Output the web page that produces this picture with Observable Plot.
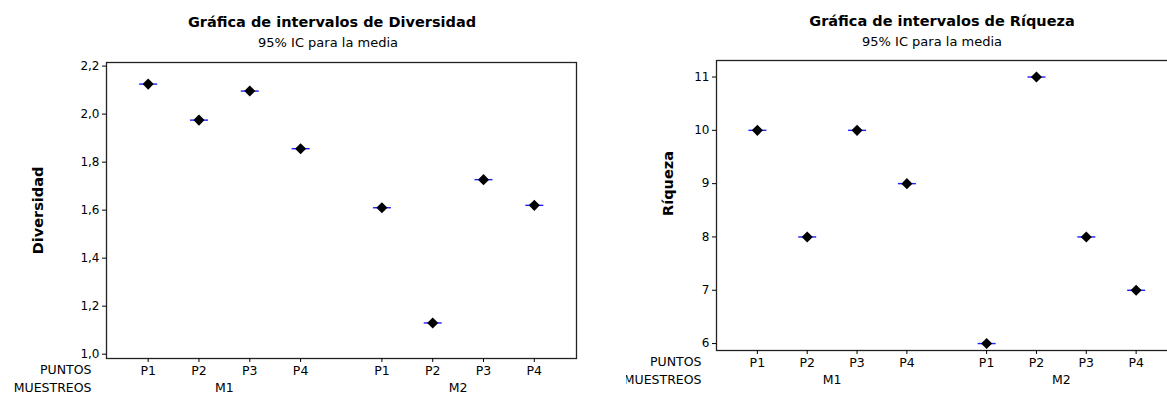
<!DOCTYPE html>
<html><head><meta charset="utf-8">
<script src="https://cdn.jsdelivr.net/npm/d3@7"></script>
<script src="https://cdn.jsdelivr.net/npm/@observablehq/plot@0.6"></script>
<style>
body{margin:0;background:#fff;}
#wrap{position:relative;width:1167px;height:403px;overflow:hidden;background:#fff;font-family:"DejaVu Sans",sans-serif;color:#000;}
.title{position:absolute;font-weight:bold;font-size:14.5px;transform:translate(-50%,-50%);white-space:nowrap;}
.sub{position:absolute;font-size:13px;transform:translate(-50%,-50%);white-space:nowrap;}
#left{position:absolute;left:0;top:0;width:590px;height:403px;}
#rightclip{position:absolute;left:626px;top:0;width:541px;height:403px;overflow:hidden;}
#right{position:absolute;left:-31px;top:0;width:590px;height:403px;}
#wrap svg{max-width:none !important;width:590px !important;height:403px !important;}
</style></head><body>
<div id="wrap">
  <div id="left"></div>
  <div id="rightclip"><div id="right"></div></div>
  <div class="title" style="left:332px;top:22px">Gráfica de intervalos de Diversidad</div>
  <div class="sub" style="left:328px;top:42px">95% IC para la media</div>
  <div class="title" style="left:942px;top:21px">Gráfica de intervalos de Ríqueza</div>
  <div class="sub" style="left:932px;top:41px">95% IC para la media</div>
</div>
<script>
// ---- data ----
const muestreos = ["M1","M1","M1","M1","M2","M2","M2","M2"];
const puntos = ["P1","P2","P3","P4","P1","P2","P3","P4"];
const diversidad = [2.125, 1.975, 2.096, 1.856, 1.61, 1.13, 1.727, 1.62];
const riqueza = [10, 8, 10, 9, 6, 11, 8, 7];
const diversidadTicks = [1.0, 1.2, 1.4, 1.6, 1.8, 2.0, 2.2];
const riquezaTicks = [6, 7, 8, 9, 10, 11];
const groupLabels = ["M1", "M2"];

// layout: slot index within group, with extra gap between groups
const groupGap = 0.6;
const pos = puntos.map((p, i) => (i % 4) + groupLabels.indexOf(muestreos[i]) * (4 + groupGap));
const groupCenters = groupLabels.map(g => {
  const ps = pos.filter((_, i) => muestreos[i] === g);
  return {g, x: (d3.min(ps) + d3.max(ps)) / 2};
});
const labelAt = new Map(pos.map((x, i) => [x, puntos[i]]));

// horizontal CI segment symbol
const hline = {draw(ctx, size) { const w = Math.sqrt(size / Math.PI); ctx.moveTo(-w, 0); ctx.lineTo(w, 0); }};

function panel({values, yTicks, yDomain, fmt, ylabel, ylabelDx, ylabelDy, width, height, mt, mr, mb, ml}) {
  const rows = values.map((v, i) => ({x: pos[i], y: v}));
  return Plot.plot({
    width, height, marginTop: mt, marginRight: mr, marginBottom: mb, marginLeft: ml,
    style: {fontFamily: "DejaVu Sans, sans-serif", fontSize: "12px", color: "#000", background: "transparent", overflow: "visible"},
    x: {type: "linear", domain: [-0.82, 8.43], axis: null},
    y: {domain: yDomain, axis: null},
    marks: [
      Plot.frame({stroke: "#222", strokeWidth: 1.3}),
      Plot.axisY(yTicks, {anchor: "left", tickSize: 4, tickPadding: 3, tickFormat: fmt, label: null, fontSize: 12}),
      Plot.axisX(pos, {anchor: "bottom", tickSize: 4, tickPadding: 4, tickFormat: d => labelAt.get(d), label: null, fontSize: 12.5}),
      Plot.text(groupCenters, {x: "x", text: "g", frameAnchor: "bottom", dy: 33, fontSize: 12.5}),
      Plot.text(["PUNTOS"], {frameAnchor: "bottom-left", textAnchor: "end", dx: -15, dy: 15, fontSize: 12.5}),
      Plot.text(["MUESTREOS"], {frameAnchor: "bottom-left", textAnchor: "end", dx: -15, dy: 33, fontSize: 12.5}),
      Plot.text([ylabel], {frameAnchor: "left", textAnchor: "middle", rotate: -90, dx: ylabelDx, dy: ylabelDy, fontWeight: "bold", fontSize: 14.5}),
      Plot.dot(rows, {x: "x", y: "y", symbol: hline, r: 9, stroke: "#1f1fff", strokeWidth: 1.4, fill: "none"}),
      Plot.dot(rows, {x: "x", y: "y", symbol: "diamond2", r: 5, fill: "#000", stroke: "none"})
    ]
  });
}

document.getElementById("left").append(panel({
  values: diversidad, yTicks: diversidadTicks, yDomain: [0.982, 2.215],
  fmt: d => d.toFixed(1).replace(".", ","), ylabel: "Diversidad", ylabelDx: -68, ylabelDy: 0,
  width: 590, height: 403, mt: 62, mr: 14, mb: 45, ml: 106
}));
document.getElementById("right").append(panel({
  values: riqueza, yTicks: riquezaTicks, yDomain: [5.87, 11.31],
  fmt: d => String(d), ylabel: "Ríqueza", ylabelDx: -48, ylabelDy: -22,
  width: 590, height: 403, mt: 60, mr: 8, mb: 53, ml: 121
}));
</script>
</body></html>
